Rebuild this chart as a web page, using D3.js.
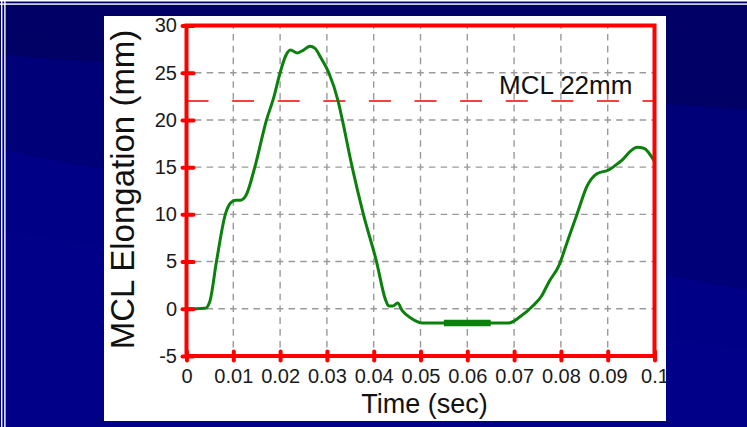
<!DOCTYPE html>
<html>
<head>
<meta charset="utf-8">
<script src="https://cdn.jsdelivr.net/npm/d3@7"></script>
<style>
  html, body { margin: 0; padding: 0; background: #000080; }
  svg { display: block; }
  text { font-family: "Liberation Sans", Arial, sans-serif; }
</style>
</head>
<body>
<svg id="chart" width="747" height="427"></svg>
<script>
// MCL elongation during the impact, time in seconds, elongation in mm
const timeSec = [0, 0.002, 0.004, 0.005, 0.0064, 0.0083, 0.0094, 0.0105, 0.0115, 0.0127,
  0.0146, 0.0171, 0.0186, 0.020, 0.0212, 0.0222, 0.0237, 0.0250, 0.0264, 0.0274,
  0.0288, 0.0304, 0.0324, 0.0333, 0.0354, 0.0378, 0.0406, 0.0425, 0.0432, 0.0441,
  0.0451, 0.0461, 0.048, 0.0504, 0.055, 0.065, 0.0689, 0.0714, 0.0742, 0.0758,
  0.0775, 0.0796, 0.0813, 0.0835, 0.0856, 0.0877, 0.0902, 0.0927, 0.0963, 0.0977, 0.100];
const elongationMm = [0, 0, 0.05, 0.8, 5, 10, 11.2, 11.5, 11.5, 12.0,
  15, 20, 22.3, 25, 26.8, 27.4, 27.1, 27.4, 27.8, 27.6,
  26.5, 25, 22, 20, 15, 10, 5, 1, 0.3, 0.3,
  0.6, -0.2, -1.0, -1.5, -1.5, -1.5, -1.5, -0.8, 0.4, 1.3,
  2.9, 4.6, 7.0, 10.1, 13.0, 14.3, 14.7, 15.6, 17.1, 17.0, 15.6];

// highlighted stretch on the lowest part of the curve
const holdTime = [0.055, 0.065];
const holdValue = [-1.5, -1.5];

// MCL failure reference
const mclLimit = 22;
const mclLabel = "MCL 22mm";

const xTicks = [0, 0.01, 0.02, 0.03, 0.04, 0.05, 0.06, 0.07, 0.08, 0.09, 0.1];
const xTickLabels = ["0", "0.01", "0.02", "0.03", "0.04", "0.05", "0.06", "0.07", "0.08", "0.09", "0.1"];
const yTicks = [-5, 0, 5, 10, 15, 20, 25, 30];
const yTickLabels = ["-5", "0", "5", "10", "15", "20", "25", "30"];

const xTitle = "Time (sec)";
const yTitle = "MCL Elongation (mm)";

const svg = d3.select("#chart");
const W = 747, H = 427;

// ---- slide background ----
svg.append("rect").attr("width", W).attr("height", H).attr("fill", "#000080");
const bg = svg.append("g");
bg.append("polygon").attr("points", "0,0 747,0 747,95 0,30").attr("fill", "#000066");
bg.append("polygon").attr("points", "0,30 747,95 747,110 0,55").attr("fill", "#00005e").attr("opacity", 0.8);
bg.append("polygon").attr("points", "0,55 747,110 747,290 0,150").attr("fill", "#000078");
bg.append("polygon").attr("points", "0,150 747,290 747,350 0,230").attr("fill", "#000086");
bg.append("polygon").attr("points", "0,230 747,350 747,427 0,427").attr("fill", "#000088");
// thin double rules along top and left edge
bg.append("rect").attr("x", 0).attr("y", 0).attr("width", W).attr("height", 1.5).attr("fill", "#fff");
bg.append("rect").attr("x", 0).attr("y", 3.4).attr("width", W).attr("height", 1.4).attr("fill", "#fff");
bg.append("rect").attr("x", 1).attr("y", 0).attr("width", 1.4).attr("height", H).attr("fill", "#fff");
bg.append("rect").attr("x", 4.2).attr("y", 0).attr("width", 1.4).attr("height", H).attr("fill", "#fff");

// ---- white chart panel ----
const panel = { x: 104, y: 16, w: 562, h: 405 };
svg.append("defs").append("clipPath").attr("id", "panelClip")
  .append("rect").attr("x", panel.x).attr("y", panel.y).attr("width", panel.w).attr("height", panel.h);
svg.append("rect").attr("x", panel.x).attr("y", panel.y).attr("width", panel.w).attr("height", panel.h).attr("fill", "#fff");

const g = svg.append("g").attr("clip-path", "url(#panelClip)");

const x = d3.scaleLinear().domain([0, 0.1]).range([186.5, 654.5]);
const y = d3.scaleLinear().domain([-5, 30]).range([356, 25.5]);
const [x0, x1] = x.range();
const [yb, yt] = y.range();

// ---- dashed grid ----
const grid = g.append("g").attr("stroke", "#9a9a9a").attr("stroke-width", 1.4).attr("fill", "none");
const cellW = x(0.01) - x(0), cellH = y(0) - y(5);
grid.selectAll("line.h").data(yTicks.filter(v => v > -5 && v < 30)).join("line")
  .attr("class", "h")
  .attr("x1", x0).attr("x2", x1)
  .attr("y1", d => y(d)).attr("y2", d => y(d))
  .attr("stroke-dasharray", `${cellW / 4 * 0.56} ${cellW / 4 * 0.44}`)
  .attr("stroke-dashoffset", cellW / 4 * 0.28);
grid.selectAll("line.v").data(xTicks.filter(v => v > 0 && v < 0.1)).join("line")
  .attr("class", "v")
  .attr("x1", d => x(d)).attr("x2", d => x(d))
  .attr("y1", yb).attr("y2", yt)
  .attr("stroke-dasharray", `${cellH / 4 * 0.56} ${cellH / 4 * 0.44}`)
  .attr("stroke-dashoffset", cellH / 4 * 0.28);

// ---- MCL limit line and label ----
g.append("line")
  .attr("x1", x0).attr("x2", x1)
  .attr("y1", y(mclLimit)).attr("y2", y(mclLimit))
  .attr("stroke", "#ff0000").attr("stroke-width", 1.4)
  .attr("stroke-dasharray", "22 23.6");
g.append("text")
  .attr("x", 499).attr("y", y(mclLimit) - 7)
  .attr("font-size", 26).attr("fill", "#111")
  .text(mclLabel);

// ---- elongation curve ----
const pts = timeSec.map((t, i) => [t, elongationMm[i]]);
const line = d3.line().x(d => x(d[0])).y(d => y(d[1])).curve(d3.curveMonotoneX);
g.append("path").datum(pts)
  .attr("d", line)
  .attr("fill", "none").attr("stroke", "#0c800c").attr("stroke-width", 3)
  .attr("stroke-linejoin", "round");
g.append("path").datum(holdTime.map((t, i) => [t, holdValue[i]]))
  .attr("d", d3.line().x(d => x(d[0])).y(d => y(d[1])))
  .attr("fill", "none").attr("stroke", "#0c800c").attr("stroke-width", 6.5);

// ---- red frame and axes ----
const red = "#ff0000";
const axisY = g.append("g").attr("transform", `translate(${x0},0)`)
  .call(d3.axisLeft(y).tickValues(yTicks).tickFormat((d, i) => yTickLabels[i]).tickSize(6).tickPadding(3.5));
const axisX = g.append("g").attr("transform", `translate(0,${yb})`)
  .call(d3.axisBottom(x).tickValues(xTicks).tickFormat((d, i) => xTickLabels[i]).tickSize(6).tickPadding(7));
[axisY, axisX].forEach(a => {
  a.select(".domain").remove();
  a.selectAll(".tick line").attr("stroke", red).attr("stroke-width", 4).attr("stroke-linecap", "round");
  a.selectAll(".tick text").attr("font-size", 20).attr("fill", "#1a1a1a")
    .attr("font-family", "'Liberation Sans', Arial, sans-serif");
});
axisY.selectAll(".tick line").attr("x1", 7).attr("x2", -4);
axisX.selectAll(".tick line").attr("y1", -4.5).attr("y2", 4.5);

g.append("rect")
  .attr("x", x0).attr("y", yt).attr("width", x1 - x0).attr("height", yb - yt)
  .attr("fill", "none").attr("stroke", red).attr("stroke-width", 4);

// ---- axis titles ----
svg.append("text")
  .attr("x", 424.5).attr("y", 413)
  .attr("text-anchor", "middle").attr("font-size", 27).attr("fill", "#111")
  .text(xTitle);
svg.append("text")
  .attr("transform", `translate(134,189.5) rotate(-90)`)
  .attr("text-anchor", "middle").attr("font-size", 33).attr("fill", "#111")
  .text(yTitle);
</script>
</body>
</html>
